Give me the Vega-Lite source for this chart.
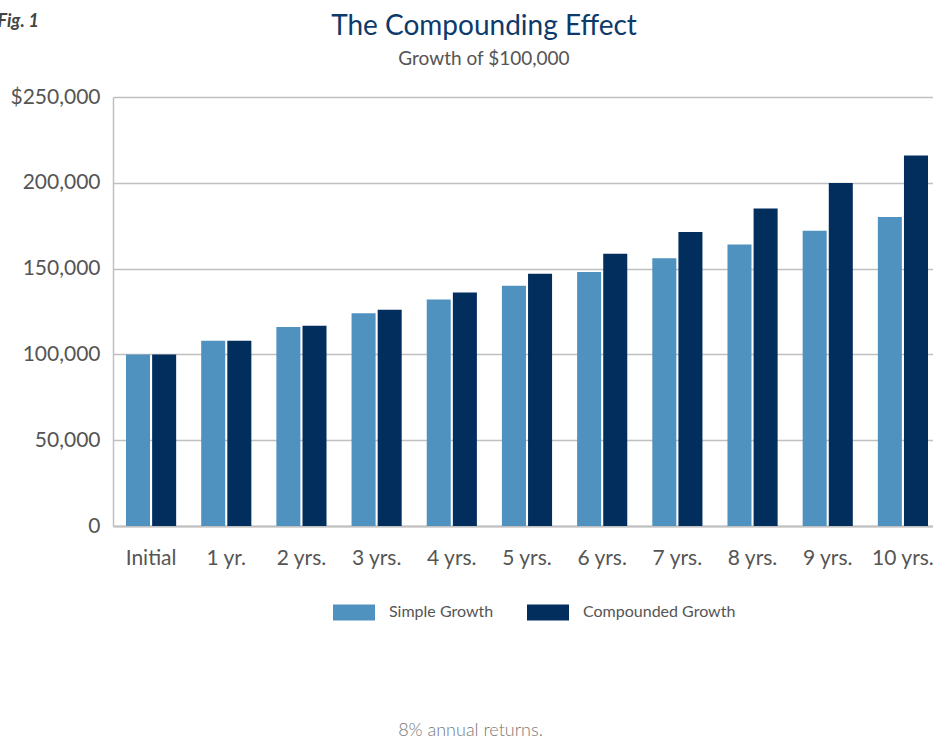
{
  "$schema": "https://vega.github.io/schema/vega-lite/v6.json",
  "width": 828,
  "height": 429,
  "autosize": {"type": "none"},
  "padding": {"left": 113, "top": 97, "right": 0, "bottom": 215},
  "background": "white",
  "title": {
    "text": "The Compounding Effect",
    "subtitle": "Growth of $100,000",
    "anchor": "middle",
    "frame": "group",
    "dx": -43,
    "offset": -57,
    "font": "Lato",
    "fontSize": 28,
    "fontWeight": "normal",
    "color": "#0d3a6b",
    "subtitleFont": "Lato",
    "subtitleFontSize": 19,
    "subtitleColor": "#555555",
    "subtitlePadding": 9
  },
  "config": {
    "view": {"stroke": null},
    "font": "Lato"
  },
  "data": {
    "values": [
      {"period": "Initial", "series": "Simple Growth", "value": 100000},
      {"period": "Initial", "series": "Compounded Growth", "value": 100000},
      {"period": "1 yr.", "series": "Simple Growth", "value": 108000},
      {"period": "1 yr.", "series": "Compounded Growth", "value": 108000},
      {"period": "2 yrs.", "series": "Simple Growth", "value": 116000},
      {"period": "2 yrs.", "series": "Compounded Growth", "value": 116640},
      {"period": "3 yrs.", "series": "Simple Growth", "value": 124000},
      {"period": "3 yrs.", "series": "Compounded Growth", "value": 125971},
      {"period": "4 yrs.", "series": "Simple Growth", "value": 132000},
      {"period": "4 yrs.", "series": "Compounded Growth", "value": 136049},
      {"period": "5 yrs.", "series": "Simple Growth", "value": 140000},
      {"period": "5 yrs.", "series": "Compounded Growth", "value": 146933},
      {"period": "6 yrs.", "series": "Simple Growth", "value": 148000},
      {"period": "6 yrs.", "series": "Compounded Growth", "value": 158687},
      {"period": "7 yrs.", "series": "Simple Growth", "value": 156000},
      {"period": "7 yrs.", "series": "Compounded Growth", "value": 171382},
      {"period": "8 yrs.", "series": "Simple Growth", "value": 164000},
      {"period": "8 yrs.", "series": "Compounded Growth", "value": 185093},
      {"period": "9 yrs.", "series": "Simple Growth", "value": 172000},
      {"period": "9 yrs.", "series": "Compounded Growth", "value": 199900},
      {"period": "10 yrs.", "series": "Simple Growth", "value": 180000},
      {"period": "10 yrs.", "series": "Compounded Growth", "value": 215892}
    ]
  },
  "mark": {"type": "bar"},
  "encoding": {
    "x": {
      "field": "period",
      "type": "nominal",
      "sort": null,
      "scale": {"paddingInner": 0.333, "paddingOuter": 0.173},
      "axis": {
        "title": "8% annual returns.",
        "titleX": 357,
        "titleY": 204,
        "titleAnchor": null,
        "titleAlign": "center",
        "titleBaseline": "middle",
        "titleFont": "Lato",
        "titleFontSize": 18,
        "titleFontWeight": 300,
        "titleColor": "#777777",
        "labelAngle": 0,
        "labelFontSize": 21,
        "labelColor": "#555555",
        "labelPadding": 21,
        "ticks": false,
        "domainColor": "#c0c0c0",
        "domainWidth": 2
      }
    },
    "xOffset": {
      "field": "series",
      "type": "nominal",
      "sort": ["Simple Growth", "Compounded Growth"],
      "scale": {"paddingInner": 0.08}
    },
    "y": {
      "field": "value",
      "type": "quantitative",
      "scale": {"domain": [0, 250000], "nice": false},
      "axis": {
        "values": [0, 50000, 100000, 150000, 200000, 250000],
        "labelExpr": "datum.value == 250000 ? '$250,000' : format(datum.value, ',')",
        "labelFontSize": 21,
        "labelColor": "#555555",
        "labelPadding": 13,
        "ticks": false,
        "domainColor": "#c0c0c0",
        "domainWidth": 1.5,
        "gridColor": "#c0c0c0",
        "gridWidth": 1.5,
        "title": "Fig. 1",
        "titleAngle": 0,
        "titleX": -116,
        "titleY": -76,
        "titleAlign": "left",
        "titleBaseline": "middle",
        "titleFont": "Lato",
        "titleFontSize": 18,
        "titleFontStyle": "italic",
        "titleFontWeight": "bold",
        "titleColor": "#444444"
      }
    },
    "color": {
      "field": "series",
      "type": "nominal",
      "sort": ["Simple Growth", "Compounded Growth"],
      "scale": {"domain": ["Simple Growth", "Compounded Growth"], "range": ["#5092bf", "#022e5e"]},
      "legend": {
        "title": null,
        "orient": "none",
        "direction": "horizontal",
        "legendX": 220,
        "legendY": 494,
        "padding": 0,
        "symbolType": "M-1,-0.381H1V0.381H-1Z",
        "symbolSize": 1764,
        "symbolOpacity": 1,
        "symbolStrokeWidth": 0,
        "labelFontSize": 16,
        "labelColor": "#555555",
        "labelOffset": 14,
        "columnPadding": 33
      }
    }
  }
}
